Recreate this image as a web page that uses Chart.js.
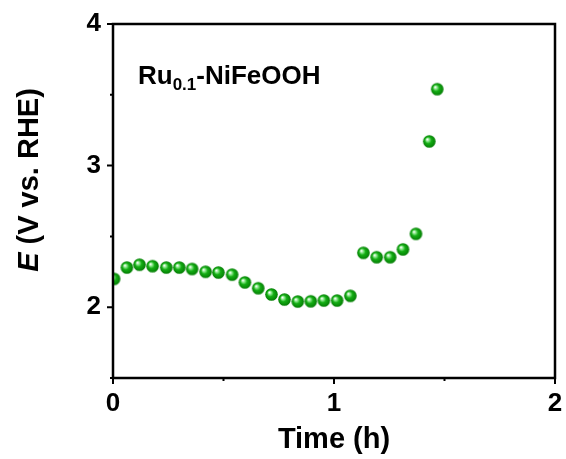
<!DOCTYPE html>
<html>
<head>
<meta charset="utf-8">
<script src="https://cdn.jsdelivr.net/npm/chart.js@4"></script>
<style>
  html, body { margin: 0; padding: 0; background: #fff; }
  #wrap { width: 566px; height: 459px; }
</style>
</head>
<body>
<div id="wrap"><canvas id="chart" width="566" height="459"></canvas></div>
<script>
// ---- data ----
const timeH = [0.005, 0.063, 0.12, 0.179, 0.241, 0.30, 0.358, 0.419, 0.477, 0.539,
  0.597, 0.657, 0.717, 0.776, 0.836, 0.895, 0.954, 1.014, 1.074,
  1.133, 1.193, 1.254, 1.312, 1.371, 1.431, 1.467];
const potentialV = [2.20, 2.28, 2.30, 2.29, 2.28, 2.28, 2.27, 2.25, 2.245, 2.23,
  2.175, 2.134, 2.09, 2.054, 2.04, 2.042, 2.047, 2.047, 2.08,
  2.384, 2.353, 2.353, 2.408, 2.518, 3.171, 3.54];
const xMajorTicks = [0, 1, 2];
const xMinorTicks = [0.5, 1.5];
const yMajorTicks = [2, 3, 4];
const yMinorTicks = [1.5, 2.5, 3.5];

const FONT = '"Liberation Sans", Arial, sans-serif';

// green shaded ball used as the point marker
function makeBall(r) {
  const c = document.createElement("canvas");
  c.width = c.height = Math.ceil(r * 2 + 2);
  const g = c.getContext("2d");
  const cx = c.width / 2, cy = c.height / 2;
  const grad = g.createRadialGradient(cx - r * 0.35, cy - r * 0.35, 0.3, cx, cy, r);
  grad.addColorStop(0, "#ffffff");
  grad.addColorStop(0.22, "#8ee88e");
  grad.addColorStop(0.5, "#14ae14");
  grad.addColorStop(1, "#047c04");
  g.fillStyle = grad;
  g.beginPath();
  g.arc(cx, cy, r, 0, Math.PI * 2);
  g.fill();
  return c;
}

// frame, tick marks, titles and label
const decor = {
  id: "decor",
  afterDatasetsDraw(chart) {
    const { ctx, chartArea: a, scales: { x, y } } = chart;
    ctx.save();
    ctx.strokeStyle = "#000";
    ctx.lineWidth = 2.5;
    ctx.strokeRect(a.left, a.top, a.right - a.left, a.bottom - a.top);

    ctx.lineWidth = 2;
    ctx.beginPath();
    for (const v of xMajorTicks) { const p = x.getPixelForValue(v); ctx.moveTo(p, a.bottom); ctx.lineTo(p, a.bottom + 6); }
    for (const v of xMinorTicks) { const p = x.getPixelForValue(v); ctx.moveTo(p, a.bottom); ctx.lineTo(p, a.bottom + 3); }
    for (const v of yMajorTicks) { const p = y.getPixelForValue(v); ctx.moveTo(a.left, p); ctx.lineTo(a.left - 6, p); }
    for (const v of yMinorTicks) { const p = y.getPixelForValue(v); ctx.moveTo(a.left, p); ctx.lineTo(a.left - 3, p); }
    ctx.stroke();

    ctx.fillStyle = "#000";
    // x title
    ctx.font = "bold 29px " + FONT;
    ctx.textAlign = "center";
    ctx.textBaseline = "alphabetic";
    ctx.fillText("Time (h)", (a.left + a.right) / 2, 448);

    // y title with italic E
    ctx.save();
    ctx.translate(38, 180);
    ctx.rotate(-Math.PI / 2);
    ctx.textAlign = "left";
    const partE = "E";
    const rest = " (V vs. RHE)";
    ctx.font = "italic bold 29px " + FONT;
    const wE = ctx.measureText(partE).width;
    ctx.font = "bold 29px " + FONT;
    const wR = ctx.measureText(rest).width;
    const start = -(wE + wR) / 2;
    ctx.font = "italic bold 29px " + FONT;
    ctx.fillText(partE, start, 0);
    ctx.font = "bold 29px " + FONT;
    ctx.fillText(rest, start + wE, 0);
    ctx.restore();

    // sample label with subscript
    ctx.textAlign = "left";
    let tx = 138;
    const ty = 84;
    ctx.font = "bold 26px " + FONT;
    ctx.fillText("Ru", tx, ty);
    tx += ctx.measureText("Ru").width;
    ctx.font = "bold 17px " + FONT;
    ctx.fillText("0.1", tx, ty + 6);
    tx += ctx.measureText("0.1").width;
    ctx.font = "bold 26px " + FONT;
    ctx.fillText("-NiFeOOH", tx, ty);
    ctx.restore();
  }
};

new Chart(document.getElementById("chart"), {
  type: "scatter",
  data: {
    datasets: [{
      data: timeH.map((t, i) => ({ x: t, y: potentialV[i] })),
      pointStyle: makeBall(6.3),
      pointRadius: 6.3,
    }],
  },
  options: {
    responsive: false,
    animation: false,
    events: [],
    layout: { padding: { top: 24, right: 11, left: 0, bottom: 0 } },
    plugins: { legend: { display: false }, tooltip: { enabled: false } },
    scales: {
      x: {
        type: "linear", min: 0, max: 2,
        grid: { display: false, drawTicks: false },
        border: { display: false },
        ticks: {
          stepSize: 1, padding: 10, color: "#000",
          font: { family: FONT, size: 26, weight: "bold" },
          callback: v => (xMajorTicks.includes(v) ? String(v) : ""),
        },
        afterFit: s => { s.height = 81; s.paddingLeft = 0; s.paddingRight = 0; },
      },
      y: {
        min: 1.5, max: 4,
        grid: { display: false, drawTicks: false },
        border: { display: false },
        ticks: {
          stepSize: 0.5, padding: 12, color: "#000",
          font: { family: FONT, size: 26, weight: "bold" },
          callback: v => (yMajorTicks.includes(v) ? String(v) : ""),
        },
        afterFit: s => { s.width = 113; s.paddingTop = 0; s.paddingBottom = 0; },
      },
    },
  },
  plugins: [decor],
});
</script>
</body>
</html>
